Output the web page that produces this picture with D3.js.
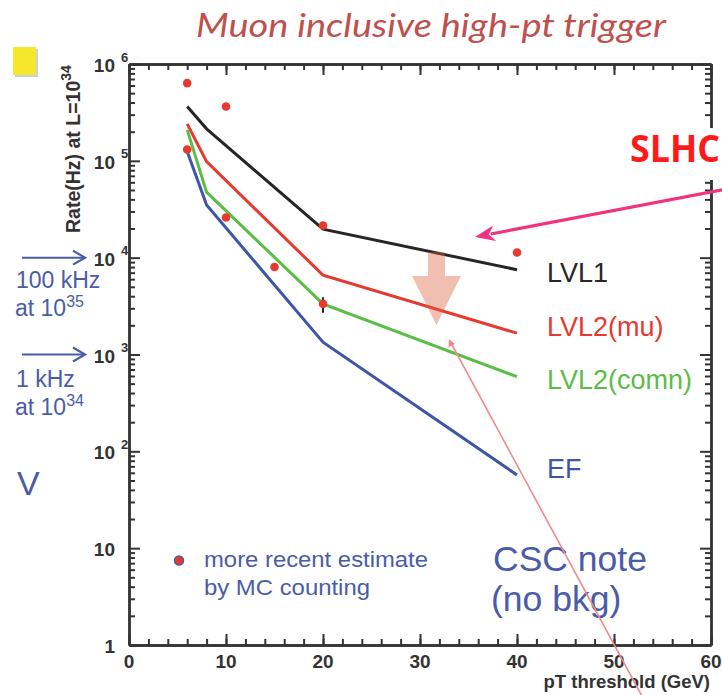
<!DOCTYPE html>
<html>
<head>
<meta charset="utf-8">
<script src="https://cdn.jsdelivr.net/npm/d3@7"></script>
<style>
body{margin:0;background:#fff;}
svg{display:block;}
</style>
</head>
<body>
<script>
//Data
const thresholds = [6, 8, 20, 40];
const lvl1 = [3.64e5, 2.14e5, 1.97e4, 7.5e3];
const lvl2mu = [2.41e5, 9.8e4, 6.6e3, 1.66e3];
const lvl2comn = [2.09e5, 4.75e4, 3.33e3, 590];
const ef = [1.25e5, 3.5e4, 1.34e3, 57];
const curveNames = ["LVL1", "LVL2(mu)", "LVL2(comn)", "EF"];

//MC counting estimates
const mcX = [6, 6, 10, 10, 15, 20, 20, 40];
const mcY = [6.35e5, 1.31e5, 3.64e5, 2.6e4, 8.0e3, 2.15e4, 3.33e3, 1.13e4];
const mcErrLow = [null, null, null, null, 7.3e3, null, 2.7e3, 1.05e4];
const mcErrHigh = [null, null, null, null, 8.0e3, null, 3.9e3, 1.13e4];

//Ticks
const xMajor = [0, 10, 20, 30, 40, 50, 60];
const xMinor = d3.range(0, 61, 2);
const yDecades = [1, 10, 100, 1e3, 1e4, 1e5, 1e6];

const w = 722, h = 695;
const colors = ["#262626", "#e8392f", "#5bbd48", "#3e56a6"];
const blueText = "#4a5ca8";
const axisColor = "#333";
const sans = "'Liberation Sans', Arial, sans-serif";

const svg = d3.select("body").append("svg").attr("width", w).attr("height", h);

const x = d3.scaleLinear().domain([0, 60]).range([129, 711]);
const y = d3.scaleLog().domain([1, 1e6]).range([645, 64]);

let yMinor = [];
yDecades.slice(0, -1).forEach(d => { for (let k = 2; k <= 9; k++) yMinor.push(d * k); });

//Axes: ticks point inward on all four sides
function styleAxis(g){
	g.selectAll("path,line").attr("stroke", axisColor).attr("stroke-width", 2);
	g.select(".domain").attr("stroke-width", 2.4);
	g.selectAll("text").remove();
}
const yb = y(1), yt = y(1e6), xl = x(0), xr = x(60);

svg.append("g").attr("transform", `translate(0,${yb})`)
	.call(d3.axisBottom(x).tickValues(xMinor).tickSize(-6).tickSizeOuter(0)).call(styleAxis);
svg.append("g").attr("transform", `translate(0,${yb})`)
	.call(d3.axisBottom(x).tickValues(xMajor).tickSize(-11).tickSizeOuter(0)).call(styleAxis);
svg.append("g").attr("transform", `translate(0,${yt})`)
	.call(d3.axisTop(x).tickValues(xMinor).tickSize(-6).tickSizeOuter(0)).call(styleAxis);
svg.append("g").attr("transform", `translate(0,${yt})`)
	.call(d3.axisTop(x).tickValues(xMajor).tickSize(-11).tickSizeOuter(0)).call(styleAxis);
svg.append("g").attr("transform", `translate(${xl},0)`)
	.call(d3.axisLeft(y).tickValues(yMinor).tickSize(-6).tickSizeOuter(0)).call(styleAxis);
svg.append("g").attr("transform", `translate(${xl},0)`)
	.call(d3.axisLeft(y).tickValues(yDecades).tickSize(-11).tickSizeOuter(0)).call(styleAxis);
svg.append("g").attr("transform", `translate(${xr},0)`)
	.call(d3.axisRight(y).tickValues(yMinor).tickSize(-6).tickSizeOuter(0)).call(styleAxis);
svg.append("g").attr("transform", `translate(${xr},0)`)
	.call(d3.axisRight(y).tickValues(yDecades).tickSize(-11).tickSizeOuter(0)).call(styleAxis);

//x tick labels
svg.append("g").selectAll("text").data(xMajor).enter().append("text")
	.attr("x", d => x(d)).attr("y", yb + 23)
	.attr("text-anchor", "middle")
	.style("font", `bold 19px ${sans}`).attr("fill", "#333")
	.text(d => d);

//y tick labels with superscript exponents
const ylab = svg.append("g").style("font-family", sans).style("font-weight", "bold").attr("fill", "#333");
yDecades.forEach(v => {
	const e = Math.round(Math.log10(v));
	ylab.append("text").attr("x", 115).attr("y", y(v) + 8).attr("text-anchor", "end")
		.style("font-size", "19px").text(e === 0 ? "1" : "10");
	if (e > 1) {
		ylab.append("text").attr("x", 121).attr("y", y(v) - 2.5)
			.style("font-size", "13px").text(e);
	}
});

//axis titles
svg.append("text").attr("x", 710).attr("y", 688).attr("text-anchor", "end")
	.style("font", `bold 18.5px ${sans}`).attr("fill", "#333")
	.text("pT threshold (GeV)");

const yTitle = svg.append("text").attr("transform", "translate(80,233) rotate(-90)")
	.style("font", `bold 19.5px ${sans}`).attr("fill", "#333");
yTitle.append("tspan").text("Rate(Hz) at L=10");
yTitle.append("tspan").attr("dy", -9).style("font-size", "14px").text("34");

//curves
const series = [lvl1, lvl2mu, lvl2comn, ef];
const line = d3.line().x(d => x(d[0])).y(d => y(d[1]));
series.forEach((s, i) => {
	svg.append("path")
		.datum(thresholds.map((t, j) => [t, s[j]]))
		.attr("d", line)
		.attr("fill", "none")
		.attr("stroke", colors[i])
		.attr("stroke-width", 3);
});

//curve labels
const labelOffset = [12, 3, 12, 3];
svg.append("g").selectAll("text").data(series).enter().append("text")
	.attr("x", 547)
	.attr("y", (d, i) => y(d[d.length - 1]) + labelOffset[i])
	.attr("fill", (d, i) => colors[i])
	.style("font", `27px ${sans}`)
	.text((d, i) => curveNames[i]);

//MC points with error bars
const mc = mcX.map((v, i) => ({x: v, y: mcY[i], lo: mcErrLow[i], hi: mcErrHigh[i]}));
svg.append("g").selectAll("line").data(mc.filter(d => d.lo !== null)).enter().append("line")
	.attr("x1", d => x(d.x)).attr("x2", d => x(d.x))
	.attr("y1", d => y(d.lo)).attr("y2", d => y(d.hi))
	.attr("stroke", "#222").attr("stroke-width", 2);
svg.append("g").selectAll("circle").data(mc).enter().append("circle")
	.attr("cx", d => x(d.x)).attr("cy", d => y(d.y)).attr("r", 4.3)
	.attr("fill", "#e8392f");

//legend
svg.append("circle").attr("cx", 179).attr("cy", 560.5).attr("r", 4.5)
	.attr("fill", "#e8392f").attr("stroke", blueText).attr("stroke-width", 1.5);
const leg = svg.append("text").attr("fill", blueText).style("font", `22px ${sans}`);
leg.append("tspan").attr("x", 204).attr("y", 567)
	.attr("textLength", 224).attr("lengthAdjust", "spacingAndGlyphs").text("more recent estimate");
leg.append("tspan").attr("x", 204).attr("y", 595)
	.attr("textLength", 166).attr("lengthAdjust", "spacingAndGlyphs").text("by MC counting");

//CSC note
const csc = svg.append("text").attr("fill", blueText).style("font", `35.5px ${sans}`);
csc.append("tspan").attr("x", 493).attr("y", 571).text("CSC note");
csc.append("tspan").attr("x", 491).attr("y", 611).text("(no bkg)");

//translucent down arrow
svg.append("polygon")
	.attr("points", [[428, 252], [445, 252], [445, 276], [461, 276], [436.5, 325], [412, 276], [428, 276]].join(" "))
	.attr("fill", "#d9603f").attr("opacity", 0.4);

//thin pink pointer
svg.append("line").attr("x1", 451).attr("y1", 343).attr("x2", 643).attr("y2", 698)
	.attr("stroke", "#f08a8a").attr("stroke-width", 1.6);
svg.append("polygon").attr("points", "449,339 448.5,347.5 455,344")
	.attr("fill", "#f08a8a");

//title
svg.append("text").attr("x", 196).attr("y", 37)
	.attr("textLength", 470).attr("lengthAdjust", "spacingAndGlyphs")
	.style("font", `italic 33px Lato, 'Open Sans', sans-serif`).attr("fill", "#c0504d")
	.text("Muon inclusive high-pt trigger");

//yellow marker
svg.append("rect").attr("x", 15).attr("y", 49).attr("width", 23).attr("height", 28).attr("fill", "#cbd3da");
svg.append("rect").attr("x", 13).attr("y", 47).attr("width", 23).attr("height", 28).attr("fill", "#f5e82c");

//SLHC with white backing over the frame
svg.append("rect").attr("x", 600).attr("y", 128).attr("width", 122).attr("height", 52).attr("fill", "#fff");
svg.append("text").attr("x", 630).attr("y", 162)
	.attr("textLength", 90).attr("lengthAdjust", "spacingAndGlyphs")
	.style("font", `bold 37px 'Open Sans', sans-serif`).attr("fill", "#ff1a1a")
	.text("SLHC");

//SLHC arrow
const ax0 = 724, ay0 = 189.5, ax1 = 475, ay1 = 237;
const len = Math.hypot(ax1 - ax0, ay1 - ay0), ux = (ax1 - ax0) / len, uy = (ay1 - ay0) / len;
const hl = 20, hw = 8;
svg.append("line").attr("x1", ax0).attr("y1", ay0)
	.attr("x2", ax1 - ux * hl * 0.8).attr("y2", ay1 - uy * hl * 0.8)
	.attr("stroke", "#f2317f").attr("stroke-width", 3.2);
svg.append("polygon")
	.attr("points", [[ax1, ay1],
		[ax1 - ux * hl - uy * hw, ay1 - uy * hl + ux * hw],
		[ax1 - ux * hl * 0.7, ay1 - uy * hl * 0.7],
		[ax1 - ux * hl + uy * hw, ay1 - uy * hl - ux * hw]].join(" "))
	.attr("fill", "#f2317f");

//left side notes
const notes = svg.append("g").attr("fill", blueText).style("font-family", sans);
[1e4, 1e3].forEach(v => {
	const yy = y(v);
	notes.append("line").attr("x1", 22).attr("x2", 84).attr("y1", yy).attr("y2", yy)
		.attr("stroke", blueText).attr("stroke-width", 2);
	notes.append("polyline").attr("points", `73,${yy - 7} 85,${yy} 73,${yy + 7}`)
		.attr("fill", "none").attr("stroke", blueText).attr("stroke-width", 2.2);
});
notes.append("text").attr("x", 16).attr("y", 288).style("font-size", "23px").text("100 kHz");
let t = notes.append("text").attr("x", 15).attr("y", 316).style("font-size", "23px");
t.append("tspan").text("at 10");
t.append("tspan").attr("dy", -9).style("font-size", "16px").text("35");
notes.append("text").attr("x", 16).attr("y", 387).style("font-size", "23px").text("1 kHz");
t = notes.append("text").attr("x", 15).attr("y", 415).style("font-size", "23px");
t.append("tspan").text("at 10");
t.append("tspan").attr("dy", -9).style("font-size", "16px").text("34");
notes.append("text").attr("x", 17).attr("y", 495).style("font-size", "34px").text("V");
</script>
</body>
</html>
